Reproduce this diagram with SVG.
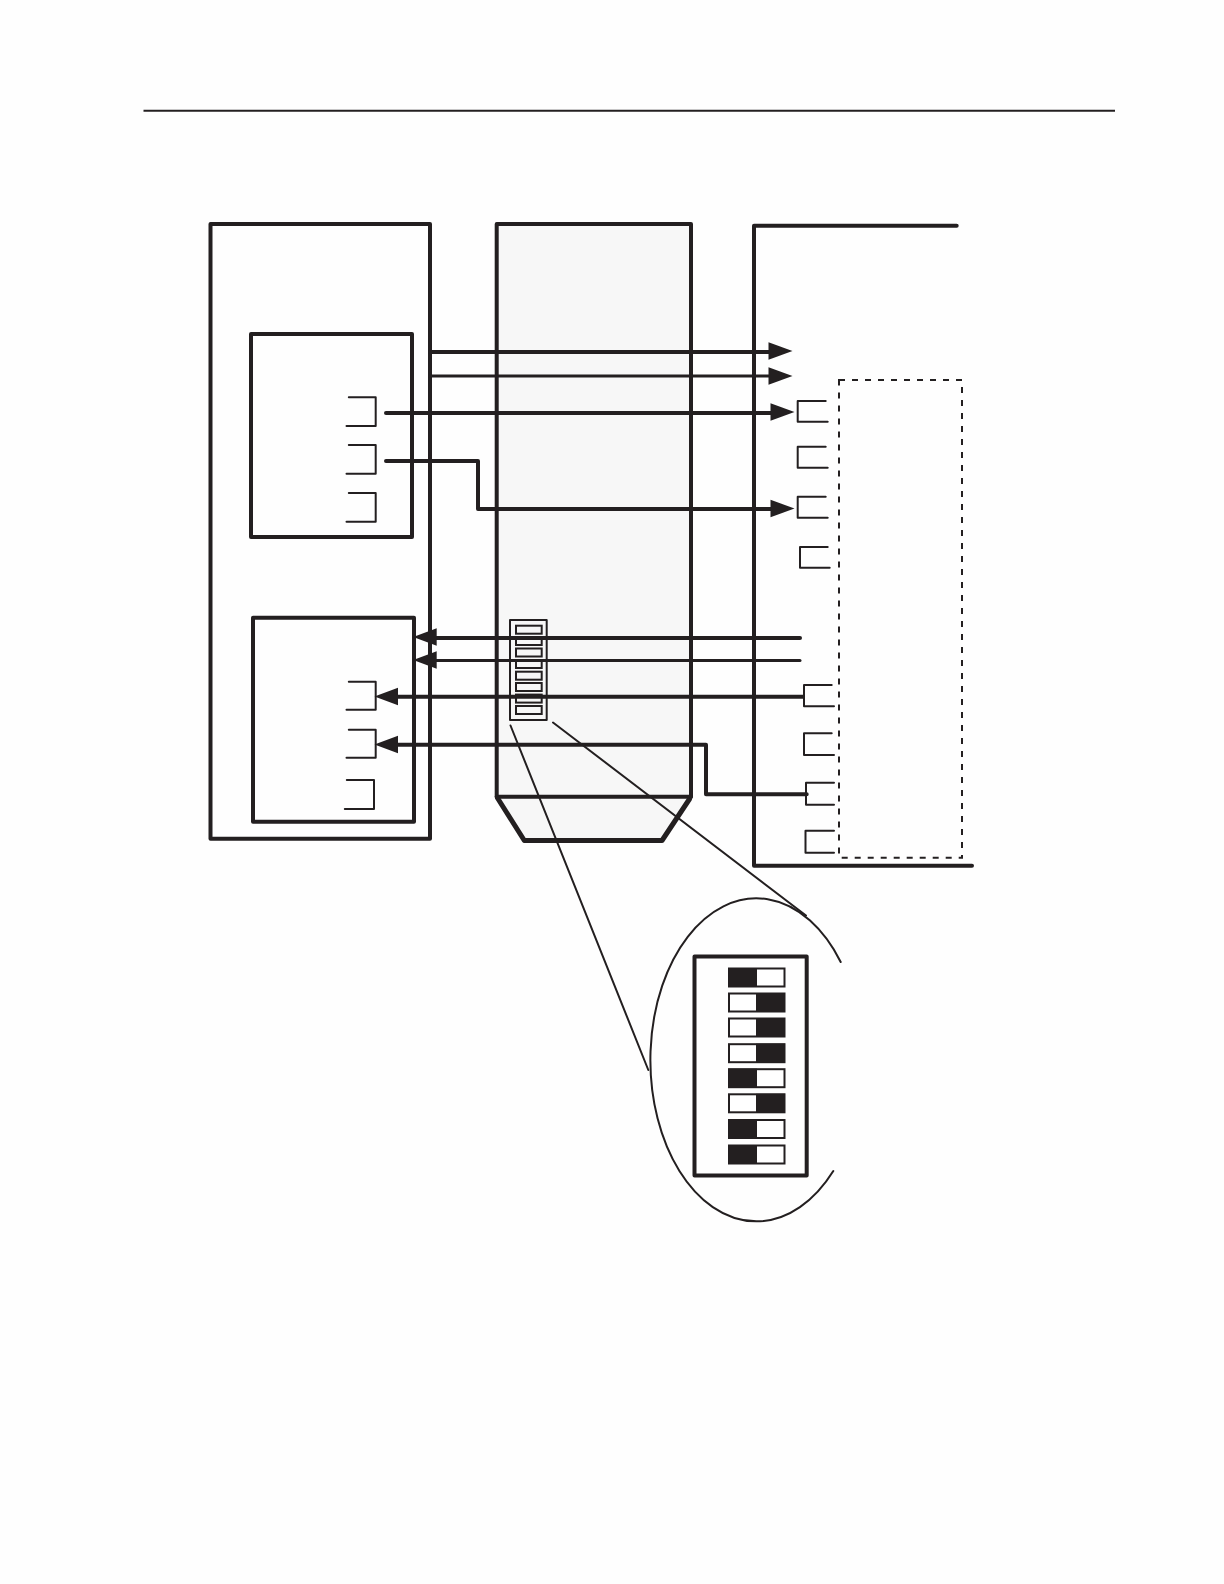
<svg xmlns="http://www.w3.org/2000/svg" width="1224" height="1584" viewBox="0 0 1224 1584">
<style>
.b{fill:none;stroke:#231f20;stroke-width:4;stroke-linejoin:round;stroke-linecap:round}
.t{fill:none;stroke:#231f20;stroke-width:2;stroke-linejoin:round;stroke-linecap:round}
.m{fill:none;stroke:#231f20;stroke-width:3;stroke-linejoin:round;stroke-linecap:round}
.d{fill:none;stroke:#231f20;stroke-width:5;stroke-linejoin:round;stroke-linecap:round}
.w{fill:#231f20;stroke:none}
.s{fill:#fff;stroke:#231f20;stroke-width:2}
.sw{fill:none;stroke:#231f20;stroke-width:2}
</style>
<defs>
<polygon id="ar" class="w" points="0,-8.7 24,0 0,8.7"/>
<polygon id="al" class="w" points="0,-8.7 -23.5,0 0,8.7"/>
<g id="swl"><rect class="s" x="729" y="0" width="55.5" height="18"/><rect class="w" x="728.5" y="-0.5" width="28.5" height="19"/></g>
<g id="swr"><rect class="s" x="729" y="0" width="55.5" height="18"/><rect class="w" x="756" y="-0.5" width="29" height="19"/></g>
</defs>
<rect width="1224" height="1584" fill="#fefefe"/>
<path id="rule" d="M143.5 110.7H1115" fill="none" stroke="#231f20" stroke-width="2"/>
<g id="center-unit">
<path d="M496.7 224H691V797L663 840.5H524.3L496.7 797Z" fill="#f7f7f7"/>
<path class="b" d="M496.7 797V224H691V796.7"/>
<path class="b" d="M496.7 796.7H691"/>
<path class="d" d="M497.5 798L524.3 840.5H662L689.5 799"/>
</g>
<g id="left-unit"><rect class="b" x="210.5" y="224" width="219.5" height="614.7"/></g>
<g id="left-module-top">
<rect class="b" x="251" y="334" width="161" height="203"/>
<path class="t" d="M348.8 397.3H375.7V426H346.5"/>
<path class="t" d="M348.8 445H375.7V473.7H346.5"/>
<path class="t" d="M348.8 493H375.7V521.7H346.5"/>
</g>
<g id="left-module-bottom">
<rect class="b" x="253" y="617.7" width="161" height="204"/>
<path class="t" d="M348.8 681.7H375.7V709.7H346.5"/>
<path class="t" d="M348.8 729.7H375.7V757.7H346.5"/>
<path class="t" d="M346.8 780H374V809H344.8"/>
</g>
<g id="right-unit">
<path class="b" d="M956.7 225.7H754V865.7H972"/>
<rect x="839" y="380" width="123" height="477.7" fill="none" stroke="#231f20" stroke-width="2" stroke-dasharray="6 7"/>
<path class="t" d="M825.7 401H797.7V421.7H827.7"/>
<path class="t" d="M825.7 446.7H797.7V467.7H827.7"/>
<path class="t" d="M825.7 496.7H797.7V517.7H827.7"/>
<path class="t" d="M827.7 547H800V567.7H829.7"/>
<path class="t" d="M831.7 685H804V706.3H834"/>
<path class="t" d="M831.7 733.3H804V755H834"/>
<path class="t" d="M834 782.7H806V804.7H834"/>
<path class="t" d="M834 830.7H805.5V852.7H834"/>
</g>
<g id="dip-small">
<rect class="t" x="510" y="620" width="36.7" height="100"/>
<rect class="sw" x="516" y="625.7" width="25.7" height="8"/>
<rect class="sw" x="516" y="637" width="25.7" height="8"/>
<rect class="sw" x="516" y="648.5" width="25.7" height="8"/>
<rect class="sw" x="516" y="660" width="25.7" height="8"/>
<rect class="sw" x="516" y="671.7" width="25.7" height="8"/>
<rect class="sw" x="516" y="683" width="25.7" height="8"/>
<rect class="sw" x="516" y="694.6" width="25.7" height="8"/>
<rect class="sw" x="516" y="706" width="25.7" height="8"/>
</g>
<g id="connectors">
<path class="b" d="M430 352H770"/>
<use href="#ar" x="768.5" y="351"/>
<path class="m" d="M430 376H770"/>
<use href="#ar" x="768.5" y="376"/>
<path class="b" d="M386 413H772"/>
<use href="#ar" x="770.5" y="412"/>
<path class="b" d="M386 461H478V509H772"/>
<use href="#ar" x="770.5" y="508.5"/>
<path class="b" d="M800 638H435"/>
<use href="#al" x="436.7" y="637"/>
<path class="m" d="M800 660.5H435"/>
<use href="#al" x="436.7" y="660"/>
<path class="b" d="M803 696.7H396"/>
<use href="#al" x="398" y="696.5"/>
<path class="b" d="M396 744.7H706V794.3H806.7"/>
<use href="#al" x="398" y="744.5"/>
<path class="t" d="M510.5 725.5L648.3 1070"/>
<path class="t" d="M553 722.5L806 915.5"/>
</g>
<g id="dip-detail">
<path class="t" d="M840.7 962A106 161.5 0 1 0 833.3 1171"/>
<rect class="b" x="694.5" y="956.5" width="112.2" height="219"/>
<use href="#swl" y="968.5"/>
<use href="#swr" y="993.5"/>
<use href="#swr" y="1018.5"/>
<use href="#swr" y="1044.2"/>
<use href="#swl" y="1069.2"/>
<use href="#swr" y="1094.3"/>
<use href="#swl" y="1120"/>
<use href="#swl" y="1145.5"/>
</g>
</svg>
